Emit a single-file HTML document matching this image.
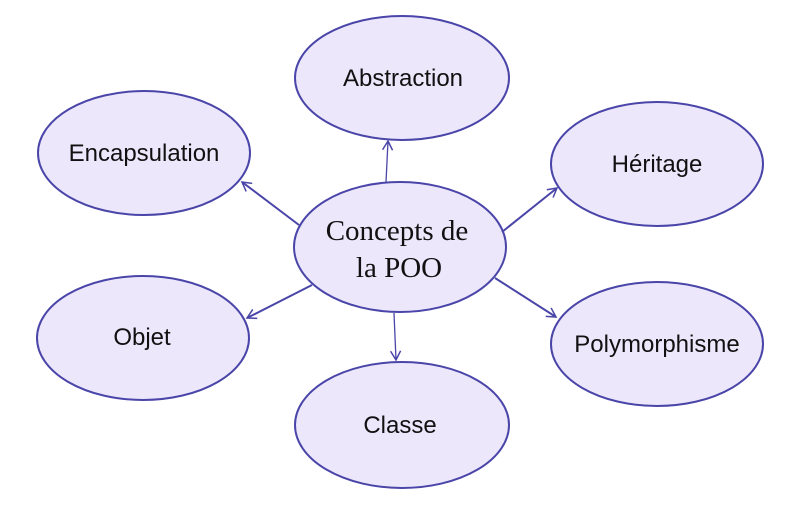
<!DOCTYPE html>
<html><head><meta charset="utf-8"><style>
body{margin:0;background:#fff;width:800px;height:500px;overflow:hidden}
text{font-family:"Liberation Sans",sans-serif;font-size:24px;fill:#111}
</style></head><body>
<svg width="800" height="500" viewBox="0 0 800 500">
<defs><marker id="a" markerWidth="12" markerHeight="12" refX="10" refY="6" orient="auto" markerUnits="userSpaceOnUse"><path d="M1,1 L10,6 L1,11" fill="none" stroke="#4a45a8" stroke-width="1.5"/></marker></defs>
<g fill="#ede7fc" stroke="#4a45a8" stroke-width="2">
<ellipse cx="402" cy="78" rx="107" ry="62"/>
<ellipse cx="144" cy="153" rx="106" ry="62"/>
<ellipse cx="657" cy="164" rx="106" ry="62"/>
<ellipse cx="143" cy="338" rx="106" ry="62"/>
<ellipse cx="402" cy="425" rx="107" ry="63"/>
<ellipse cx="657" cy="344" rx="106" ry="62"/>
<ellipse cx="400" cy="247" rx="106" ry="65"/>
</g>
<g stroke="#4a45a8" stroke-width="2" fill="none" marker-end="url(#a)">
<line x1="386" y1="182" x2="388" y2="141" stroke-width="1.3"/>
<line x1="394" y1="313" x2="396" y2="360" stroke-width="1.3"/>
<line x1="299" y1="225" x2="242" y2="182"/>
<line x1="312" y1="285" x2="247" y2="318"/>
<line x1="502" y1="232" x2="557" y2="188"/>
<line x1="495" y1="278" x2="556" y2="317"/>
</g>
<g text-anchor="middle">
<text x="403" y="86">Abstraction</text>
<text x="144" y="161">Encapsulation</text>
<text x="657" y="172">Héritage</text>
<text x="142" y="345">Objet</text>
<text x="400" y="433">Classe</text>
<text x="657" y="352">Polymorphisme</text>
<text x="397" y="240" style="font-family:'Liberation Serif',serif;font-size:29px">Concepts de</text>
<text x="399" y="277" style="font-family:'Liberation Serif',serif;font-size:29px">la POO</text>
</g>
</svg>
</body></html>
